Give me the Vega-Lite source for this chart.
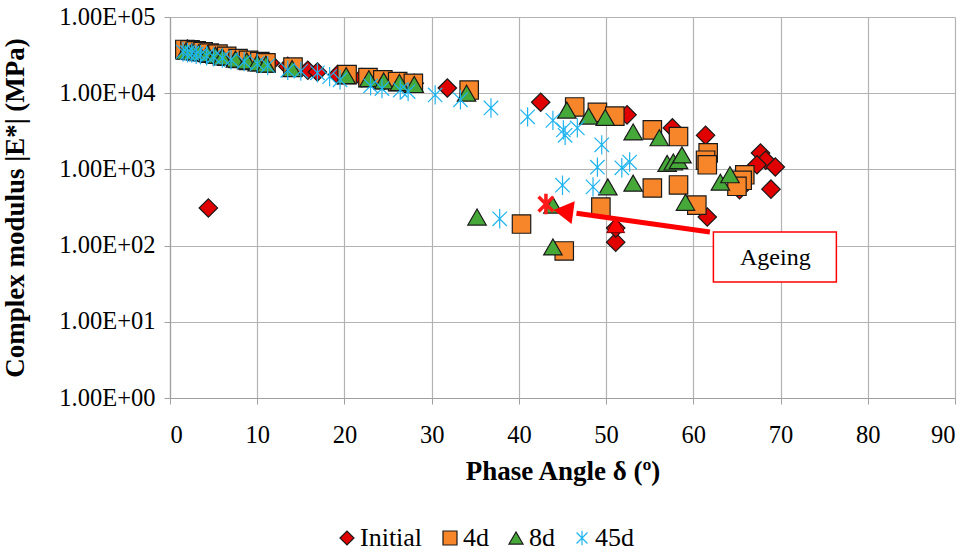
{
  "$schema": "https://vega.github.io/schema/vega-lite/v6.json",
  "width": 785,
  "height": 381,
  "autosize": {"type": "none"},
  "padding": {"left": 170, "top": 17, "right": 20, "bottom": 156},
  "background": "white",
  "config": {
    "view": {"stroke": null},
    "font": "Liberation Serif",
    "axis": {
      "labelFont": "Liberation Serif",
      "titleFont": "Liberation Serif",
      "labelFontSize": 24.5,
      "titleFontSize": 27,
      "titleFontWeight": "bold",
      "labelColor": "black",
      "titleColor": "black",
      "gridColor": "#b3b3b3",
      "gridWidth": 1.2,
      "domainColor": "#a0a0a0",
      "domainWidth": 1.2,
      "tickColor": "#a0a0a0",
      "tickSize": 6
    },
    "legend": {
      "labelFont": "Times New Roman",
      "labelFontSize": 26,
      "labelColor": "black",
      "symbolSize": 196,
      "symbolStrokeWidth": 1.2,
      "columnPadding": 14,
      "labelOffset": 0,
      "symbolOpacity": 1
    }
  },
  "datasets": {
    "pts": [
      {"phase": 2.0, "modulus": 38000, "series": "Initial"},
      {"phase": 2.8, "modulus": 37000, "series": "Initial"},
      {"phase": 3.5, "modulus": 35500, "series": "Initial"},
      {"phase": 4.2, "modulus": 34000, "series": "Initial"},
      {"phase": 5.5, "modulus": 32000, "series": "Initial"},
      {"phase": 7.0, "modulus": 30000, "series": "Initial"},
      {"phase": 8.5, "modulus": 28000, "series": "Initial"},
      {"phase": 10.0, "modulus": 26500, "series": "Initial"},
      {"phase": 11.5, "modulus": 25000, "series": "Initial"},
      {"phase": 13.5, "modulus": 22500, "series": "Initial"},
      {"phase": 15.8, "modulus": 20000, "series": "Initial"},
      {"phase": 16.9, "modulus": 19000, "series": "Initial"},
      {"phase": 19.2, "modulus": 17500, "series": "Initial"},
      {"phase": 22.0, "modulus": 16000, "series": "Initial"},
      {"phase": 24.5, "modulus": 14500, "series": "Initial"},
      {"phase": 26.5, "modulus": 14000, "series": "Initial"},
      {"phase": 28.0, "modulus": 13500, "series": "Initial"},
      {"phase": 31.8, "modulus": 11700, "series": "Initial"},
      {"phase": 42.5, "modulus": 7600, "series": "Initial"},
      {"phase": 52.4, "modulus": 5200, "series": "Initial"},
      {"phase": 57.6, "modulus": 3500, "series": "Initial"},
      {"phase": 61.4, "modulus": 2800, "series": "Initial"},
      {"phase": 67.7, "modulus": 1640, "series": "Initial"},
      {"phase": 68.3, "modulus": 1320, "series": "Initial"},
      {"phase": 67.3, "modulus": 1150, "series": "Initial"},
      {"phase": 69.4, "modulus": 1075, "series": "Initial"},
      {"phase": 68.9, "modulus": 550, "series": "Initial"},
      {"phase": 65.3, "modulus": 540, "series": "Initial"},
      {"phase": 61.6, "modulus": 237, "series": "Initial"},
      {"phase": 51.1, "modulus": 111, "series": "Initial"},
      {"phase": 51.1, "modulus": 170, "series": "Initial"},
      {"phase": 4.4, "modulus": 312, "series": "Initial"},
      {"phase": 1.7, "modulus": 37500, "series": "4d"},
      {"phase": 2.3, "modulus": 37000, "series": "4d"},
      {"phase": 3.0, "modulus": 36000, "series": "4d"},
      {"phase": 3.8, "modulus": 35000, "series": "4d"},
      {"phase": 4.5, "modulus": 33500, "series": "4d"},
      {"phase": 5.5, "modulus": 32500, "series": "4d"},
      {"phase": 6.5, "modulus": 30500, "series": "4d"},
      {"phase": 7.8, "modulus": 28500, "series": "4d"},
      {"phase": 9.0, "modulus": 27000, "series": "4d"},
      {"phase": 10.3, "modulus": 26000, "series": "4d"},
      {"phase": 11.0, "modulus": 25000, "series": "4d"},
      {"phase": 14.1, "modulus": 22000, "series": "4d"},
      {"phase": 20.3, "modulus": 17500, "series": "4d"},
      {"phase": 22.7, "modulus": 16000, "series": "4d"},
      {"phase": 24.4, "modulus": 15000, "series": "4d"},
      {"phase": 26.1, "modulus": 14200, "series": "4d"},
      {"phase": 27.9, "modulus": 13500, "series": "4d"},
      {"phase": 34.3, "modulus": 11000, "series": "4d"},
      {"phase": 46.4, "modulus": 6600, "series": "4d"},
      {"phase": 49.0, "modulus": 5600, "series": "4d"},
      {"phase": 51.0, "modulus": 5000, "series": "4d"},
      {"phase": 55.3, "modulus": 3300, "series": "4d"},
      {"phase": 58.3, "modulus": 2700, "series": "4d"},
      {"phase": 61.7, "modulus": 1650, "series": "4d"},
      {"phase": 61.4, "modulus": 1320, "series": "4d"},
      {"phase": 61.6, "modulus": 1150, "series": "4d"},
      {"phase": 65.9, "modulus": 850, "series": "4d"},
      {"phase": 65.6, "modulus": 720, "series": "4d"},
      {"phase": 65.0, "modulus": 600, "series": "4d"},
      {"phase": 55.3, "modulus": 570, "series": "4d"},
      {"phase": 58.3, "modulus": 625, "series": "4d"},
      {"phase": 60.4, "modulus": 340, "series": "4d"},
      {"phase": 49.4, "modulus": 320, "series": "4d"},
      {"phase": 40.3, "modulus": 192, "series": "4d"},
      {"phase": 45.2, "modulus": 85, "series": "4d"},
      {"phase": 1.8, "modulus": 35500, "series": "8d"},
      {"phase": 2.5, "modulus": 35000, "series": "8d"},
      {"phase": 3.3, "modulus": 34000, "series": "8d"},
      {"phase": 4.3, "modulus": 33000, "series": "8d"},
      {"phase": 5.2, "modulus": 31500, "series": "8d"},
      {"phase": 6.0, "modulus": 30000, "series": "8d"},
      {"phase": 7.5, "modulus": 28000, "series": "8d"},
      {"phase": 8.8, "modulus": 26500, "series": "8d"},
      {"phase": 10.0, "modulus": 25000, "series": "8d"},
      {"phase": 11.0, "modulus": 24000, "series": "8d"},
      {"phase": 14.0, "modulus": 21000, "series": "8d"},
      {"phase": 20.2, "modulus": 17000, "series": "8d"},
      {"phase": 22.8, "modulus": 15500, "series": "8d"},
      {"phase": 24.5, "modulus": 14500, "series": "8d"},
      {"phase": 26.3, "modulus": 13800, "series": "8d"},
      {"phase": 28.0, "modulus": 13000, "series": "8d"},
      {"phase": 34.0, "modulus": 10000, "series": "8d"},
      {"phase": 45.5, "modulus": 6000, "series": "8d"},
      {"phase": 48.0, "modulus": 5000, "series": "8d"},
      {"phase": 49.9, "modulus": 4800, "series": "8d"},
      {"phase": 53.1, "modulus": 3100, "series": "8d"},
      {"phase": 56.1, "modulus": 2600, "series": "8d"},
      {"phase": 57.0, "modulus": 1200, "series": "8d"},
      {"phase": 57.7, "modulus": 1250, "series": "8d"},
      {"phase": 58.3, "modulus": 1300, "series": "8d"},
      {"phase": 58.7, "modulus": 1550, "series": "8d"},
      {"phase": 50.2, "modulus": 590, "series": "8d"},
      {"phase": 53.1, "modulus": 660, "series": "8d"},
      {"phase": 63.1, "modulus": 680, "series": "8d"},
      {"phase": 64.2, "modulus": 850, "series": "8d"},
      {"phase": 59.1, "modulus": 370, "series": "8d"},
      {"phase": 35.2, "modulus": 237, "series": "8d"},
      {"phase": 43.9, "modulus": 340, "series": "8d"},
      {"phase": 43.9, "modulus": 96, "series": "8d"},
      {"phase": 1.5, "modulus": 35000, "series": "45d"},
      {"phase": 2.0, "modulus": 34000, "series": "45d"},
      {"phase": 2.5, "modulus": 33500, "series": "45d"},
      {"phase": 3.0, "modulus": 32500, "series": "45d"},
      {"phase": 3.5, "modulus": 32000, "series": "45d"},
      {"phase": 4.2, "modulus": 31000, "series": "45d"},
      {"phase": 5.0, "modulus": 30000, "series": "45d"},
      {"phase": 6.0, "modulus": 29000, "series": "45d"},
      {"phase": 7.0, "modulus": 27500, "series": "45d"},
      {"phase": 8.5, "modulus": 26000, "series": "45d"},
      {"phase": 10.0, "modulus": 24500, "series": "45d"},
      {"phase": 11.2, "modulus": 23000, "series": "45d"},
      {"phase": 13.5, "modulus": 20000, "series": "45d"},
      {"phase": 15.0, "modulus": 19500, "series": "45d"},
      {"phase": 16.9, "modulus": 18500, "series": "45d"},
      {"phase": 18.3, "modulus": 16500, "series": "45d"},
      {"phase": 19.5, "modulus": 15000, "series": "45d"},
      {"phase": 23.0, "modulus": 12500, "series": "45d"},
      {"phase": 24.3, "modulus": 11500, "series": "45d"},
      {"phase": 26.4, "modulus": 11000, "series": "45d"},
      {"phase": 27.3, "modulus": 10500, "series": "45d"},
      {"phase": 30.4, "modulus": 9500, "series": "45d"},
      {"phase": 33.3, "modulus": 8200, "series": "45d"},
      {"phase": 36.8, "modulus": 6400, "series": "45d"},
      {"phase": 41.0, "modulus": 4900, "series": "45d"},
      {"phase": 43.9, "modulus": 4400, "series": "45d"},
      {"phase": 45.1, "modulus": 3300, "series": "45d"},
      {"phase": 45.3, "modulus": 2800, "series": "45d"},
      {"phase": 46.7, "modulus": 3500, "series": "45d"},
      {"phase": 49.5, "modulus": 2100, "series": "45d"},
      {"phase": 49.0, "modulus": 1070, "series": "45d"},
      {"phase": 51.8, "modulus": 1050, "series": "45d"},
      {"phase": 52.7, "modulus": 1250, "series": "45d"},
      {"phase": 45.0, "modulus": 620, "series": "45d"},
      {"phase": 48.5, "modulus": 590, "series": "45d"},
      {"phase": 37.8, "modulus": 225, "series": "45d"}
    ],
    "shaft": [{"x1": 61.9, "y1": 151, "x2": 46.6, "y2": 266}],
    "head": [{"x": 45.1, "y": 282}],
    "mark45": [{"x": 43.1, "y": 351}],
    "tri": [{"x": 51.1, "y": 187}],
    "box": [{"x1": 62.3, "x2": 76.4, "y1": 151, "y2": 33.3}],
    "label": [{"x": 69.4, "y": 68, "text": "Ageing"}]
  },
  "layer": [
    {
      "data": {"name": "pts"},
      "mark": {"type": "point", "filled": true, "opacity": 1, "size": 340, "strokeWidth": 1.2},
      "encoding": {
        "x": {
          "field": "phase", "type": "quantitative",
          "scale": {"domain": [0, 90], "nice": false},
          "axis": {
            "values": [0, 10, 20, 30, 40, 50, 60, 70, 80, 90],
            "title": "Phase Angle δ (º)",
            "labelPadding": 19,
            "titlePadding": 12,
            "grid": true
          }
        },
        "y": {
          "field": "modulus", "type": "quantitative",
          "scale": {"type": "log", "domain": [1, 100000], "nice": false},
          "axis": {
            "values": [1, 10, 100, 1000, 10000, 100000],
            "labelExpr": "'1.00E+0' + round(log(datum.value) / LN10)",
            "title": "Complex modulus |E*| (MPa)",
            "labelPadding": 9,
            "titlePadding": 29,
            "grid": true
          }
        },
        "shape": {
          "field": "series", "type": "nominal",
          "scale": {
            "domain": ["Initial", "4d", "8d", "45d"],
            "range": ["diamond", "square", "triangle-up", "M 0 -1.05 L 0 1.05 M -0.78 -0.78 L 0.78 0.78 M -0.78 0.78 L 0.78 -0.78"]
          },
          "legend": {
            "title": null,
            "orient": "none",
            "direction": "horizontal",
            "legendX": 164,
            "legendY": 508,
            "labelFont": "Times New Roman",
            "labelFontSize": 26,
            "labelOffset": 0,
            "columnPadding": 14,
            "symbolSize": 196
          }
        },
        "fill": {
          "field": "series", "type": "nominal",
          "scale": {
            "domain": ["Initial", "4d", "8d", "45d"],
            "range": ["#e00000", "#f7862a", "#47a83a", "#00b0f0"]
          },
          "legend": {
            "title": null,
            "orient": "none",
            "direction": "horizontal",
            "legendX": 164,
            "legendY": 508,
            "labelFont": "Times New Roman",
            "labelFontSize": 26,
            "labelOffset": 0,
            "columnPadding": 14,
            "symbolSize": 196
          }
        },
        "stroke": {
          "field": "series", "type": "nominal",
          "scale": {
            "domain": ["Initial", "4d", "8d", "45d"],
            "range": ["#1a1a1a", "#1a1a1a", "#1a1a1a", "#1eb4f0"]
          },
          "legend": {
            "title": null,
            "orient": "none",
            "direction": "horizontal",
            "legendX": 164,
            "legendY": 508,
            "labelFont": "Times New Roman",
            "labelFontSize": 26,
            "labelOffset": 0,
            "columnPadding": 14,
            "symbolSize": 196
          }
        }
      }
    },
    {
      "data": {"name": "tri"},
      "mark": {"type": "point", "shape": "triangle-up", "filled": true, "fill": "#ff0000", "stroke": "#7a0000", "strokeWidth": 1, "size": 320, "opacity": 1},
      "encoding": {
        "x": {"field": "x", "type": "quantitative"},
        "y": {"field": "y", "type": "quantitative"}
      }
    },
    {
      "data": {"name": "mark45"},
      "mark": {"type": "point", "shape": "M 0 -1 L 0 1 M -0.72 -0.72 L 0.72 0.72 M -0.72 0.72 L 0.72 -0.72", "filled": false, "stroke": "#ff1a1a", "strokeWidth": 3.5, "size": 420, "opacity": 1},
      "encoding": {
        "x": {"field": "x", "type": "quantitative"},
        "y": {"field": "y", "type": "quantitative"}
      }
    },
    {
      "data": {"name": "shaft"},
      "mark": {"type": "rule", "color": "#ff0000", "strokeWidth": 5},
      "encoding": {
        "x": {"field": "x1", "type": "quantitative"},
        "y": {"field": "y1", "type": "quantitative"},
        "x2": {"field": "x2"},
        "y2": {"field": "y2"}
      }
    },
    {
      "data": {"name": "head"},
      "mark": {"type": "point", "shape": "triangle-left", "filled": true, "fill": "#ff0000", "strokeWidth": 0, "size": 520, "angle": 8, "opacity": 1},
      "encoding": {
        "x": {"field": "x", "type": "quantitative"},
        "y": {"field": "y", "type": "quantitative"}
      }
    },
    {
      "data": {"name": "box"},
      "mark": {"type": "rect", "fill": "white", "stroke": "#ff0000", "strokeWidth": 1.5},
      "encoding": {
        "x": {"field": "x1", "type": "quantitative"},
        "x2": {"field": "x2"},
        "y": {"field": "y1", "type": "quantitative"},
        "y2": {"field": "y2"}
      }
    },
    {
      "data": {"name": "label"},
      "mark": {"type": "text", "font": "Liberation Serif", "fontSize": 24, "color": "black", "align": "center", "baseline": "middle"},
      "encoding": {
        "x": {"field": "x", "type": "quantitative"},
        "y": {"field": "y", "type": "quantitative"},
        "text": {"field": "text"}
      }
    }
  ]
}
